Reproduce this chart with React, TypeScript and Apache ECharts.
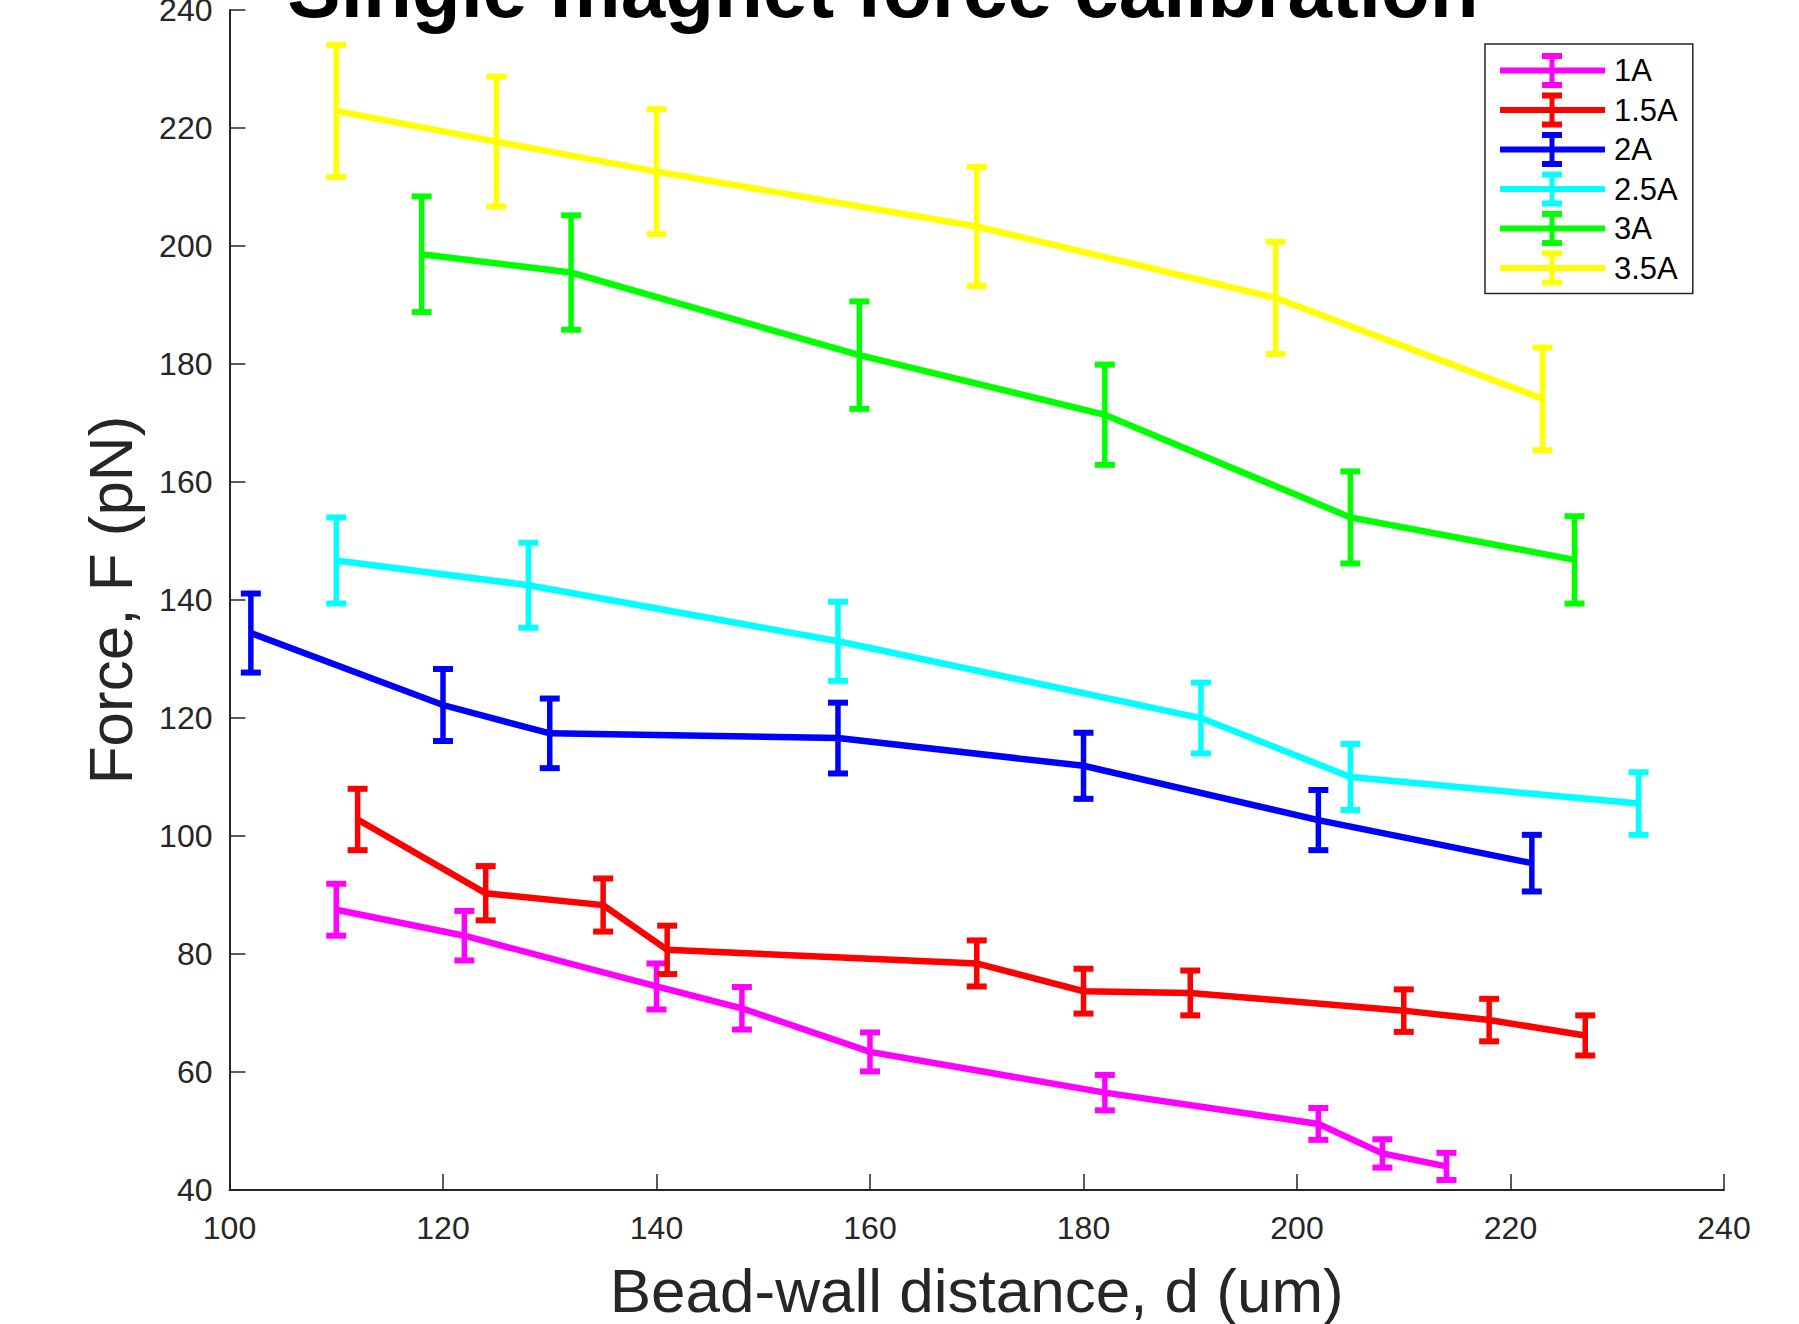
import React, { useEffect, useRef } from "react";
import * as echarts from "echarts";

// ---- data ----
const seriesNames = ["1A", "1.5A", "2A", "2.5A", "3A", "3.5A"];
const seriesColors = ["#FF00FF", "#FF0000", "#0000FF", "#00FFFF", "#00FF00", "#FFFF00"];

const x1A = [110, 122, 140, 148, 160, 182, 202, 208, 214];
const y1A = [87.5, 83.1, 74.5, 70.8, 63.4, 56.5, 51.2, 46.2, 44.0];
const e1A = [4.4, 4.2, 3.9, 3.6, 3.3, 3.0, 2.7, 2.4, 2.3];

const x15A = [112, 124, 135, 141, 170, 180, 190, 210, 218, 227];
const y15A = [102.8, 90.3, 88.3, 80.7, 78.4, 73.7, 73.4, 70.4, 68.8, 66.2];
const e15A = [5.2, 4.6, 4.5, 4.1, 3.9, 3.8, 3.8, 3.6, 3.6, 3.4];

const x2A = [102, 120, 130, 157, 180, 202, 222];
const y2A = [134.4, 122.2, 117.4, 116.6, 111.9, 102.7, 95.4];
const e2A = [6.7, 6.1, 5.9, 6.0, 5.6, 5.1, 4.8];

const x25A = [110, 128, 157, 191, 205, 232];
const y25A = [146.7, 142.5, 133.0, 120.0, 110.0, 105.5];
const e25A = [7.3, 7.2, 6.7, 6.0, 5.6, 5.3];

const x3A = [118, 132, 159, 182, 205, 226];
const y3A = [198.6, 195.5, 181.5, 171.4, 154.0, 146.8];
const e3A = [9.8, 9.7, 9.1, 8.5, 7.8, 7.4];

const x35A = [110, 125, 140, 170, 198, 223];
const y35A = [222.9, 217.7, 212.6, 203.3, 191.2, 174.1];
const e35A = [11.2, 11.0, 10.6, 10.1, 9.5, 8.7];

const allX = [x1A, x15A, x2A, x25A, x3A, x35A];
const allY = [y1A, y15A, y2A, y25A, y3A, y35A];
const allE = [e1A, e15A, e2A, e25A, e3A, e35A];

const xTicks = [100, 120, 140, 160, 180, 200, 220, 240];
const yTicks = [40, 60, 80, 100, 120, 140, 160, 180, 200, 220, 240];

const titleText = "Single magnet force calibration";
const xName = "Bead-wall distance, d (um)";
const yName = "Force, F (pN)";

// ---- styles ----
const FONT = "Liberation Sans, Arial, Helvetica, sans-serif";
const AXIS_COLOR = "#262626";
const LINE_W = 6.5;
const STEM_W = 5.5;
const CAP_W = 6;
const CAP_HALF = 10;

const legendIconPath =
  "path://M0 14.5 H105 V20.5 H0 Z M49.5 0 H54.5 V35 H49.5 Z M42 0 H62 V6 H42 Z M42 29 H62 V35 H42 Z";

export default function App() {
  const ref = useRef<HTMLDivElement>(null);

  useEffect(() => {
    if (!ref.current) return;
    const chart = echarts.init(ref.current, undefined, { renderer: "svg" });

    const series: any[] = [];
    seriesNames.forEach((name, i) => {
      const color = seriesColors[i];
      const pts = allX[i].map((x, j) => [x, allY[i][j], allE[i][j]]);
      series.push({
        name,
        type: "line",
        data: pts.map((p) => [p[0], p[1]]),
        symbol: "none",
        showSymbol: false,
        lineStyle: { color, width: LINE_W, cap: "butt", join: "miter" },
        itemStyle: { color },
        emphasis: { disabled: true },
        z: 2 + i,
        silent: true,
      });
      series.push({
        name,
        type: "custom",
        data: pts,
        encode: { x: 0, y: 1 },
        clip: false,
        z: 2 + i,
        silent: true,
        renderItem: (params: any, api: any) => {
          const x = api.value(0);
          const y = api.value(1);
          const e = api.value(2);
          const top = api.coord([x, y + e]);
          const bot = api.coord([x, y - e]);
          return {
            type: "group",
            children: [
              {
                type: "line",
                shape: { x1: top[0], y1: top[1], x2: bot[0], y2: bot[1] },
                style: { stroke: color, lineWidth: STEM_W },
              },
              {
                type: "line",
                shape: { x1: top[0] - CAP_HALF, y1: top[1], x2: top[0] + CAP_HALF, y2: top[1] },
                style: { stroke: color, lineWidth: CAP_W },
              },
              {
                type: "line",
                shape: { x1: bot[0] - CAP_HALF, y1: bot[1], x2: bot[0] + CAP_HALF, y2: bot[1] },
                style: { stroke: color, lineWidth: CAP_W },
              },
            ],
          };
        },
      });
    });

    const option: any = {
      animation: false,
      backgroundColor: "#ffffff",
      textStyle: { fontFamily: FONT },
      grid: {
        left: 229.5,
        right: 75,
        top: 10,
        bottom: 134,
        containLabel: false,
        outerBoundsMode: "none",
      },
      graphic: [
        {
          type: "text",
          x: 883,
          y: -11,
          style: {
            text: titleText,
            font: `bold 80px ${FONT}`,
            fill: "#000000",
            textAlign: "center",
            textVerticalAlign: "middle",
          },
          z: 100,
        },
      ],
      legend: {
        orient: "vertical",
        left: 1485,
        top: 44,
        padding: [9, 15, 8, 15],
        itemGap: 4.5,
        itemWidth: 105,
        itemHeight: 35,
        borderColor: AXIS_COLOR,
        borderWidth: 1.5,
        backgroundColor: "#ffffff",
        selectedMode: false,
        itemStyle: { borderWidth: 0 },
        textStyle: { fontSize: 31, color: "#000000", fontFamily: FONT, padding: [0, 0, 0, 4] },
        data: seriesNames.map((n) => ({ name: n, icon: legendIconPath })),
        z: 50,
      },
      xAxis: {
        type: "value",
        min: xTicks[0],
        max: xTicks[xTicks.length - 1],
        interval: xTicks[1] - xTicks[0],
        name: xName,
        nameLocation: "middle",
        nameGap: 69,
        nameTextStyle: { fontSize: 62, color: AXIS_COLOR, fontFamily: FONT },
        axisLine: { show: true, onZero: false, lineStyle: { color: AXIS_COLOR, width: 2 } },
        axisTick: { show: true, inside: true, length: 16, lineStyle: { color: AXIS_COLOR, width: 1.5 } },
        axisLabel: { fontSize: 32, color: AXIS_COLOR, margin: 22, fontFamily: FONT },
        splitLine: { show: false },
      },
      yAxis: {
        type: "value",
        min: yTicks[0],
        max: yTicks[yTicks.length - 1],
        interval: yTicks[1] - yTicks[0],
        name: yName,
        nameLocation: "middle",
        nameGap: 88,
        nameTextStyle: { fontSize: 62, color: AXIS_COLOR, fontFamily: FONT },
        axisLine: { show: true, onZero: false, lineStyle: { color: AXIS_COLOR, width: 2 } },
        axisTick: { show: true, inside: true, length: 16, lineStyle: { color: AXIS_COLOR, width: 1.5 } },
        axisLabel: { fontSize: 32, color: AXIS_COLOR, margin: 17, fontFamily: FONT },
        splitLine: { show: false },
      },
      series,
    };

    chart.setOption(option);
    return () => {
      chart.dispose();
    };
  }, []);

  return (
    <div
      ref={ref}
      style={{ position: "fixed", left: 0, top: 0, width: 1799, height: 1324, background: "#fff" }}
    />
  );
}
